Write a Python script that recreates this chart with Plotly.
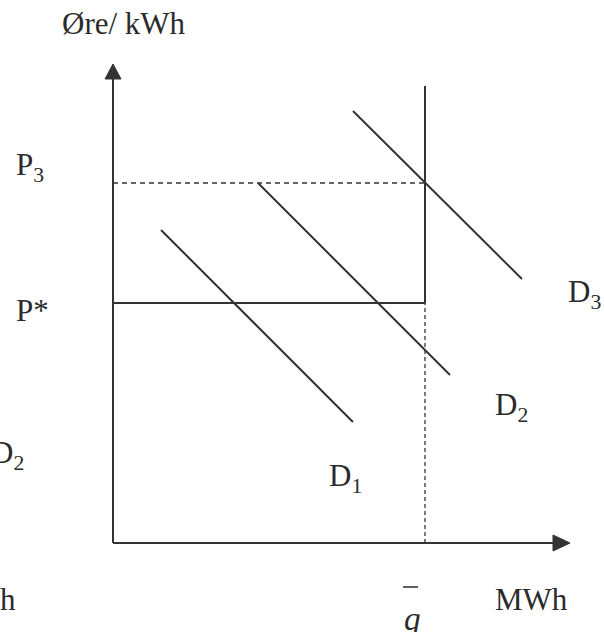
import plotly.graph_objects as go

# ---- diagram data (x: quantity, y: price; arbitrary units) ----
q_bar = 312          # fixed capacity
p_star = 240         # regulated price P*
p3 = 360             # price P3
supply_top = 457
d1_x = [48, 240];  d1_y = [313, 121]
d2_x = [145, 337]; d2_y = [360, 168]
d3_x = [240, 409]; d3_y = [432, 264]
axis_x_end = 457
axis_y_end = 479

LINE = "#333333"
TXT = "#2b2b2b"
FONT = "Liberation Serif"
FS = 31

fig = go.Figure()

def seg(x, y, dash="solid", w=2):
    fig.add_trace(go.Scatter(x=x, y=y, mode="lines",
                             line=dict(color=LINE, width=w, dash=dash),
                             hoverinfo="skip", showlegend=False))

# axes
seg([0, 0], [0, axis_y_end - 14])
seg([0, axis_x_end - 16], [0, 0])
# arrowheads
fig.add_trace(go.Scatter(x=[-8, 0, 8, -8], y=[axis_y_end - 15, axis_y_end, axis_y_end - 15, axis_y_end - 15],
                         mode="lines", fill="toself", fillcolor=LINE, line=dict(color=LINE, width=1),
                         hoverinfo="skip", showlegend=False))
fig.add_trace(go.Scatter(x=[axis_x_end - 17, axis_x_end, axis_x_end - 17, axis_x_end - 17], y=[8, 0, -8, 8],
                         mode="lines", fill="toself", fillcolor=LINE, line=dict(color=LINE, width=1),
                         hoverinfo="skip", showlegend=False))

# supply: vertical at q_bar above P*, horizontal at P*
seg([q_bar, q_bar], [p_star, supply_top])
seg([0, q_bar], [p_star, p_star])
# dashed guides
seg([q_bar, q_bar], [0, p_star], dash="4px,3px", w=1.3)
seg([0, q_bar], [p3, p3], dash="5px,4px", w=1.3)
# demand curves
seg(d1_x, d1_y)
seg(d2_x, d2_y)
seg(d3_x, d3_y)

# macron over q
fig.add_shape(type="line", x0=q_bar - 22, x1=q_bar - 7, y0=-44, y1=-44,
              line=dict(color=TXT, width=1.5))

labels = [
    ("Øre/ kWh", 11, 520, "center"),
    ("P<sub>3</sub>", -99, 376, "left"),
    ("P*", -99, 233, "left"),
    ("D<sub>1</sub>", 214, 65, "left"),
    ("D<sub>2</sub>", 380, 136, "left"),
    ("D<sub>3</sub>", 453, 249, "left"),
    ("MWh", 380, -56, "left"),
    ("D<sub>2</sub>", -87, 88, "right"),
    ("h", -95, -56, "right"),
]
for t, x, y, xa in labels:
    fig.add_annotation(x=x, y=y, text=t, showarrow=False, xanchor=xa, yanchor="middle",
                       font=dict(family=FONT, size=FS, color=TXT))
fig.add_annotation(x=q_bar - 13, y=-76, text="<i>q</i>", showarrow=False, xanchor="center",
                   yanchor="middle", font=dict(family=FONT, size=FS + 2, color=TXT))

fig.update_xaxes(range=[-113, 491], visible=False, fixedrange=True)
fig.update_yaxes(range=[-89, 543], visible=False, fixedrange=True)
fig.update_layout(width=604, height=632, margin=dict(l=0, r=0, t=0, b=0),
                  paper_bgcolor="white", plot_bgcolor="white")

fig.write_html("out.html", config={"displayModeBar": False},
               post_script="document.body.style.margin='0';document.body.style.overflow='hidden';")
